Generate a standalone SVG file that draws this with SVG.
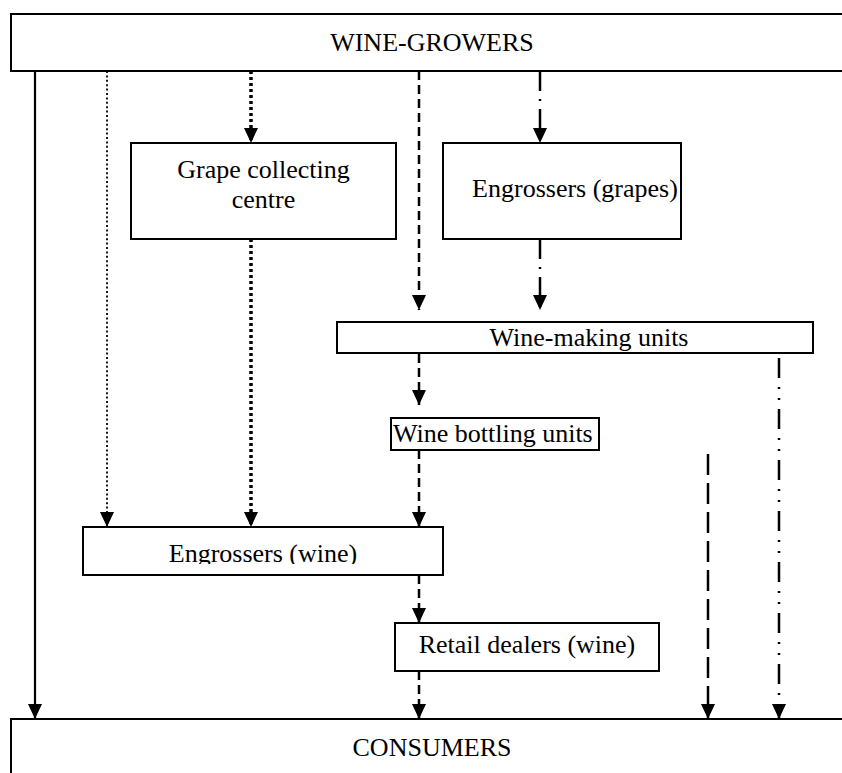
<svg xmlns="http://www.w3.org/2000/svg" width="842" height="773" viewBox="0 0 842 773">
<style>
.box{fill:#fff;stroke:#000;stroke-width:2}
.lbl{font-family:"Liberation Serif","Times New Roman","DejaVu Serif",serif;font-size:26px;fill:#000}
.c{text-anchor:middle}
.ln{fill:none;stroke:#000;stroke-width:2.2;marker-end:url(#ah)}
.solid{}
.dot{stroke-width:1.8;stroke-dasharray:2 2.4}
.tdot{stroke-width:3.5;stroke-dasharray:3 3}
.dash{stroke-width:2.5;stroke-dasharray:9 5}
.dd{stroke-width:2.5;stroke-dasharray:20 8 2 8}
.ddd{stroke-width:2.5;stroke-dasharray:20 9 2 9 2 9}
.ldash{stroke-width:2.5;stroke-dasharray:21 8}
</style>
<defs>
<marker id="ah" viewBox="0 0 15 14" refX="15" refY="7" markerWidth="15" markerHeight="14" markerUnits="userSpaceOnUse" orient="auto">
<path d="M0,0 L15,7 L0,14 Z" fill="#000"/>
</marker>
<clipPath id="clipEW"><rect x="83" y="527" width="360" height="37"/></clipPath>
</defs>
<rect width="842" height="773" fill="#fff"/>
<g id="connectors">
<line class="ln solid" x1="35" y1="71" x2="35" y2="719"/>
<line class="ln dot" x1="107" y1="71" x2="107" y2="527"/>
<line class="ln tdot" x1="251" y1="71" x2="251" y2="143"/>
<line class="ln tdot" x1="251" y1="239" x2="251" y2="527"/>
<line class="ln dash" x1="419" y1="71" x2="419" y2="310"/>
<line class="ln dd" x1="540" y1="71" x2="540" y2="143"/>
<line class="ln dd" x1="540" y1="239" x2="540" y2="310"/>
<line class="ln dash" x1="419" y1="354" x2="419" y2="405"/>
<line class="ln dash" x1="419" y1="450" x2="419" y2="527"/>
<line class="ln dash" x1="419" y1="575" x2="419" y2="623"/>
<line class="ln dash" x1="419" y1="671" x2="419" y2="719"/>
<line class="ln ldash" x1="708" y1="454" x2="708" y2="719"/>
<line class="ln ddd" x1="779" y1="358" x2="779" y2="719"/>
</g>
<g id="wine-growers">
<rect class="box" x="11" y="14" width="850" height="57"/>
<text class="lbl c" x="432" y="51">WINE-GROWERS</text>
</g>
<g id="grape-collecting-centre">
<rect class="box" x="131" y="143" width="265" height="96"/>
<text class="lbl c" x="263.5" y="178">Grape collecting</text>
<text class="lbl c" x="263.5" y="208">centre</text>
</g>
<g id="engrossers-grapes">
<rect class="box" x="443" y="143" width="238" height="96"/>
<text class="lbl c" x="575" y="197">Engrossers (grapes)</text>
</g>
<g id="wine-making-units">
<rect class="box" x="337" y="322" width="476" height="31"/>
<text class="lbl c" x="589" y="346">Wine-making units</text>
</g>
<g id="wine-bottling-units">
<rect class="box" x="391" y="418" width="208" height="32"/>
<text class="lbl" x="393" y="442">Wine bottling units</text>
</g>
<g id="engrossers-wine">
<rect class="box" x="83" y="527" width="360" height="48"/>
<text class="lbl c" x="263" y="562" clip-path="url(#clipEW)">Engrossers (wine)</text>
</g>
<g id="retail-dealers">
<rect class="box" x="395" y="623" width="264" height="48"/>
<text class="lbl c" x="527" y="653">Retail dealers (wine)</text>
</g>
<g id="consumers">
<rect class="box" x="11" y="719" width="850" height="70"/>
<text class="lbl c" x="432" y="756">CONSUMERS</text>
</g>
</svg>
